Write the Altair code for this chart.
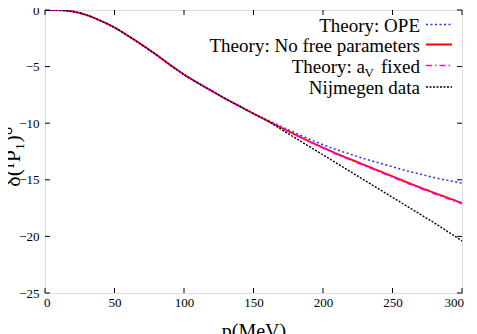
import altair as alt
import pandas as pd

# ---- data ----
p_mev = [0, 10, 20, 30, 40, 50, 60, 70, 80, 90, 100, 110, 120, 130, 140, 150,
         160, 170, 180, 190, 200, 210, 220, 230, 240, 250, 260, 270, 280, 290, 300]

common = [0, -0.02, -0.13, -0.45, -0.95, -1.55, -2.3, -3.1, -3.95, -4.85, -5.7,
          -6.45, -7.15, -7.85, -8.5, -9.15]

nijmegen = common + [-9.8, -10.55, -11.3, -12.05, -12.8, -13.55, -14.3, -15.05,
                     -15.8, -16.55, -17.3, -18.05, -18.8, -19.6, -20.4]
ope = common + [-9.72, -10.3, -10.85, -11.4, -11.9, -12.35, -12.75, -13.15,
                -13.5, -13.85, -14.2, -14.5, -14.8, -15.05, -15.3]
no_free = common + [-9.78, -10.4, -11.0, -11.6, -12.15, -12.7, -13.2, -13.7,
                    -14.2, -14.7, -15.2, -15.68, -16.15, -16.6, -17.05]
av_fixed = common + [-9.8, -10.43, -11.04, -11.65, -12.2, -12.76, -13.26, -13.77,
                     -14.27, -14.78, -15.28, -15.76, -16.23, -16.68, -17.13]

x_ticks = [0, 50, 100, 150, 200, 250, 300]
y_ticks = [-25, -20, -15, -10, -5, 0]

series_names = ["Theory: OPE", "Theory: No free parameters",
                "Theory: a_V fixed", "Nijmegen data"]
series_vals = [ope, no_free, av_fixed, nijmegen]

rows = []
for name, vals in zip(series_names, series_vals):
    for p, d in zip(p_mev, vals):
        rows.append({"series": name, "p": p, "delta": d})
df = pd.DataFrame(rows)

W, H = 417, 283
FONT = "Liberation Serif"

styles = {
    "Theory: OPE": dict(color="#2b2bff", dash=[2, 2.5], width=1.5),
    "Theory: No free parameters": dict(color="#ff0000", dash=[1, 0], width=1.8),
    "Theory: a_V fixed": dict(color="#ff00ff", dash=[6, 3, 1.5, 3], width=1.5),
    "Nijmegen data": dict(color="#000000", dash=[2, 1.5], width=1.4),
}

xs = alt.Scale(domain=[0, 300], nice=False, zero=False)
ys = alt.Scale(domain=[-25, 0], nice=False, zero=False)

x_axis = alt.Axis(values=x_ticks, ticks=False, domain=False, grid=False,
                  labelFont=FONT, labelFontSize=13, labelColor="black",
                  labelPadding=3, labelFlush=True, labelFlushOffset=1.5,
                  title="p(MeV)", titleFont=FONT, titleFontSize=20,
                  titleFontWeight="normal", titleColor="black",
                  titleX=W / 2, titleY=44, titleBaseline="alphabetic",
                  titleAlign="center")
y_axis = alt.Axis(values=y_ticks, ticks=False, domain=False, grid=False,
                  labelFont=FONT, labelFontSize=13, labelColor="black",
                  labelPadding=6, labelFlush=False,
                  title="δ(¹P₁)°", titleFont=FONT, titleFontSize=22,
                  titleFontWeight="normal", titleColor="black",
                  titleAngle=270, titleX=-26, titleY=146,
                  titleBaseline="alphabetic", titleAlign="center")

layers = []
base = alt.Chart(df).mark_line(opacity=0).encode(
    x=alt.X("p:Q", scale=xs, axis=x_axis),
    y=alt.Y("delta:Q", scale=ys, axis=y_axis),
)
layers.append(base)

for name in series_names:
    st = styles[name]
    layers.append(
        alt.Chart(df).transform_filter(alt.datum.series == name)
        .mark_line(color=st["color"], strokeDash=st["dash"],
                   strokeWidth=st["width"], interpolate="monotone", clip=True)
        .encode(x=alt.X("p:Q", scale=xs, axis=x_axis),
                y=alt.Y("delta:Q", scale=ys, axis=y_axis))
    )

# inward tick marks (gnuplot style, mirrored)
xt = pd.DataFrame({"t": x_ticks})
yt = pd.DataFrame({"t": y_ticks})
TL = 5
layers.append(alt.Chart(xt).mark_rule(color="black", strokeWidth=1).encode(
    x=alt.X("t:Q", scale=xs, axis=x_axis), y=alt.value(H), y2=alt.value(H - TL)))
layers.append(alt.Chart(xt).mark_rule(color="black", strokeWidth=1).encode(
    x=alt.X("t:Q", scale=xs, axis=x_axis), y=alt.value(0), y2=alt.value(TL)))
layers.append(alt.Chart(yt).mark_rule(color="black", strokeWidth=1).encode(
    y=alt.Y("t:Q", scale=ys, axis=y_axis), x=alt.value(0), x2=alt.value(TL)))
layers.append(alt.Chart(yt).mark_rule(color="black", strokeWidth=1).encode(
    y=alt.Y("t:Q", scale=ys, axis=y_axis), x=alt.value(W), x2=alt.value(W - TL)))

# legend (text left of the line sample, as in gnuplot)
leg_y = [14.5, 34.5, 55.5, 77]
TX = 375
LX1, LX2 = 381, 407
one = pd.DataFrame({"k": [0]})
for name, ly in zip(series_names, leg_y):
    st = styles[name]
    layers.append(alt.Chart(one).mark_rule(
        color=st["color"], strokeDash=st["dash"], strokeWidth=st["width"]).encode(
        x=alt.value(LX1), x2=alt.value(LX2), y=alt.value(ly)))
    if name == "Theory: a_V fixed":
        layers.append(alt.Chart(one).mark_text(
            text="fixed", font=FONT, fontSize=19, align="right",
            baseline="alphabetic", color="black").encode(
            x=alt.value(TX), y=alt.value(ly + 7)))
        layers.append(alt.Chart(one).mark_text(
            text="V", font=FONT, fontSize=13, align="right",
            baseline="alphabetic", color="black").encode(
            x=alt.value(TX - 46), y=alt.value(ly + 11)))
        layers.append(alt.Chart(one).mark_text(
            text="Theory: a", font=FONT, fontSize=19, align="right",
            baseline="alphabetic", color="black").encode(
            x=alt.value(TX - 55), y=alt.value(ly + 7)))
    else:
        layers.append(alt.Chart(one).mark_text(
            text=name, font=FONT, fontSize=19, align="right",
            baseline="alphabetic", color="black").encode(
            x=alt.value(TX), y=alt.value(ly + 7)))

chart = alt.layer(*layers).properties(
    width=W, height=H,
    autosize=alt.AutoSizeParams(type="none"),
    padding={"left": 37, "top": 2, "right": 7, "bottom": 41},
).configure_view(stroke="black", strokeWidth=1.2).configure(
    background="white", font=FONT
).configure_axis(labelFont=FONT, titleFont=FONT)

chart.save("out.html", embed_options={"renderer": "svg", "actions": False})
